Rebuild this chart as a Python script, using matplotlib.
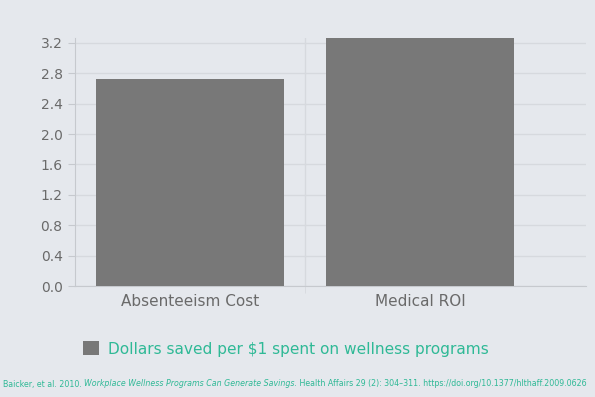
import matplotlib
matplotlib.use("Agg")
import matplotlib.pyplot as plt
from matplotlib.patches import Patch

categories = ["Absenteeism Cost", "Medical ROI"]
values = [2.73, 3.27]
series_label = "Dollars saved per $1 spent on wellness programs"
yticks = [0.0, 0.4, 0.8, 1.2, 1.6, 2.0, 2.4, 2.8, 3.2]

bg = "#e5e8ed"
bar_color = "#787878"
grid_color = "#d6d9de"
axis_color = "#c6c9ce"
text_color = "#6a6a6a"
teal = "#2fb996"
font = "DejaVu Sans"

W, H = 595, 397
fig = plt.figure(figsize=(W / 100, H / 100), dpi=100, facecolor=bg)
ax = fig.add_axes([75 / W, 1 - 286 / H, (586 - 75) / W, (286 - 37.5) / H])
ax.set_facecolor(bg)

x = list(range(len(categories)))
ax.bar(x, values, width=0.817, color=bar_color, zorder=3)
ax.set_xlim(-0.5, 1.722)
ax.set_ylim(0, 3.27)

ax.set_yticks(yticks)
ax.set_yticklabels([f"{v:.1f}" for v in yticks], fontsize=10, color=text_color, family=font)
ax.set_xticks(x)
ax.set_xticklabels(categories, fontsize=11, color=text_color, family=font)
ax.tick_params(axis="x", length=0, pad=6)
ax.tick_params(axis="y", length=5, color=axis_color, pad=4)

# grid
for v in yticks:
    ax.axhline(v, color=grid_color, lw=1, zorder=1)
ax.set_xticks([0.5], minor=True)
ax.tick_params(axis="x", which="minor", length=5, color=grid_color)
ax.axvline(0.5, color=grid_color, lw=1, zorder=1)

for s in ["top", "right"]:
    ax.spines[s].set_visible(False)
ax.spines["left"].set_color(axis_color)
ax.spines["bottom"].set_color(axis_color)

handle = Patch(facecolor=bar_color, edgecolor="none")
leg = fig.legend([handle], [series_label], loc="center left",
                 bbox_to_anchor=(69 / W, 1 - 349 / H), frameon=False,
                 handlelength=1.05, handleheight=1.0, handletextpad=0.55,
                 prop={"family": font, "size": 11.1})
for t in leg.get_texts():
    t.set_color(teal)

# footer with mixed styles
pieces = [
    ("Baicker, et al. 2010. ", "normal"),
    ("Workplace Wellness Programs Can Generate Savings.", "italic"),
    (" Health Affairs 29 (2): 304\u2013311. https://doi.org/10.1377/hlthaff.2009.0626", "normal"),
]
fig.canvas.draw()
renderer = fig.canvas.get_renderer()
xpos = 3 / W
for txt, style in pieces:
    t = fig.text(xpos, 1 - 384 / H, txt, fontsize=5.68, color=teal, style=style,
                 family=font, va="center", ha="left")
    bb = t.get_window_extent(renderer=renderer)
    xpos += bb.width / W

fig.savefig("out.png", dpi=100, facecolor=bg)
